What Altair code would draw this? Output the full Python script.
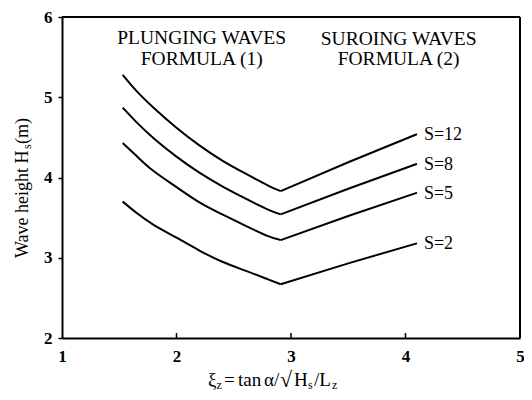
import altair as alt
import pandas as pd

# ---------------- data ----------------
S_values = [12, 8, 5, 2]
S_labels = ["S=12", "S=8", "S=5", "S=2"]

xi_plunging = [1.53, 1.65, 1.8, 2.0, 2.2, 2.4, 2.6, 2.8, 2.91]
H_plunging_S12 = [5.28, 5.08, 4.87, 4.62, 4.40, 4.21, 4.05, 3.90, 3.83]
H_plunging_S8 = [4.87, 4.69, 4.49, 4.26, 4.06, 3.89, 3.74, 3.60, 3.54]
H_plunging_S5 = [4.43, 4.27, 4.08, 3.88, 3.69, 3.54, 3.40, 3.27, 3.22]
H_plunging_S2 = [3.70, 3.56, 3.41, 3.25, 3.09, 2.95, 2.84, 2.73, 2.67]

xi_surging = [2.91, 3.5, 4.10]
H_surging_S12 = [3.83, 4.19, 4.54]
H_surging_S8 = [3.54, 3.86, 4.17]
H_surging_S5 = [3.22, 3.52, 3.81]
H_surging_S2 = [2.67, 2.93, 3.18]

x_ticks = [1, 2, 3, 4, 5]
y_ticks = [2, 3, 4, 5, 6]
inner_x_ticks = [2, 3, 4]
x_range = [1, 5]
y_range = [2, 6]

note_texts = ["PLUNGING WAVES", "FORMULA (1)", "SUROING WAVES", "FORMULA (2)"]
note_xi = [2.22, 2.22, 3.94, 3.94]
note_H = [5.74, 5.48, 5.72, 5.48]

# ---------------- tables ----------------
plunging = [H_plunging_S12, H_plunging_S8, H_plunging_S5, H_plunging_S2]
surging = [H_surging_S12, H_surging_S8, H_surging_S5, H_surging_S2]

rows = []
for s, hp, hs in zip(S_values, plunging, surging):
    for x, h in zip(xi_plunging, hp):
        rows.append({"xi": x, "H": h, "key": f"{s}-p"})
    for x, h in zip(xi_surging, hs):
        rows.append({"xi": x, "H": h, "key": f"{s}-s"})
df = pd.DataFrame(rows)

labels_df = pd.DataFrame({
    "xi": [xi_surging[-1]] * len(surging),
    "H": [hs[-1] for hs in surging],
    "label": S_labels,
})
notes_df = pd.DataFrame({"text": note_texts, "xi": note_xi, "H": note_H})

FONT = "Liberation Serif"
W, H = 458, 321

xscale = alt.Scale(domain=x_range, nice=False)
yscale = alt.Scale(domain=y_range, nice=False)

lines = alt.Chart(df).mark_line(color="black", strokeWidth=2, interpolate="natural").encode(
    x=alt.X("xi:Q", scale=xscale, title=None,
            axis=alt.Axis(values=x_ticks, format="d")),
    y=alt.Y("H:Q", scale=yscale, title=None,
            axis=alt.Axis(values=y_ticks, format="d")),
    detail="key:N",
)

# top and right edges of the plot frame (left/bottom are the axis domains)
edges = [
    alt.Chart(pd.DataFrame({"e": [0]})).mark_rule(color="black", strokeWidth=2).encode(
        x=alt.value(0), x2=alt.value(W), y=alt.value(0)),
    alt.Chart(pd.DataFrame({"e": [0]})).mark_rule(color="black", strokeWidth=2).encode(
        x=alt.value(W), y=alt.value(0), y2=alt.value(H)),
]

inner_ticks = alt.Chart(pd.DataFrame({"t": inner_x_ticks})).mark_rule(
    color="black", strokeWidth=1.5
).encode(x=alt.X("t:Q", scale=xscale), y=alt.value(H - 5), y2=alt.value(H))

s_labels = alt.Chart(labels_df).mark_text(
    font=FONT, fontSize=18, align="left", baseline="middle", dx=7, dy=1, color="black"
).encode(x=alt.X("xi:Q", scale=xscale), y=alt.Y("H:Q", scale=yscale), text="label:N")

notes = alt.Chart(notes_df).mark_text(
    font=FONT, fontSize=19.5, align="center", baseline="middle", color="black"
).encode(x=alt.X("xi:Q", scale=xscale), y=alt.Y("H:Q", scale=yscale), text="text:N")


def piece(txt, x, y, size, angle=0, baseline="alphabetic"):
    return alt.Chart(pd.DataFrame({"t": [txt]})).mark_text(
        font=FONT, fontSize=size, align="left", baseline=baseline, angle=angle, color="black"
    ).encode(text="t:N", x=alt.value(x), y=alt.value(y))


# x-axis title: xi_z = tan a / sqrt(H_s / L_z)
xt = [
    piece("ξ", 146, 369, 19),
    piece("z", 154.5, 372, 12),
    piece("=", 162, 369, 19),
    piece("tan", 176, 369, 19),
    piece("α/", 202, 369, 19),
    piece("√", 218, 370, 22),
    piece("H", 232, 369, 19),
    piece("s", 246, 372, 12),
    piece("/L", 252, 369, 19),
    piece("z", 270, 372, 12),
]
# y-axis title: Wave height H_s(m), rotated
yt = [
    piece("Wave height H", -34, 241, 18, angle=270),
    piece("s", -31, 132, 12, angle=270),
    piece("(m)", -34, 127, 18, angle=270),
]

chart = alt.layer(lines, *edges, inner_ticks, s_labels, notes, *xt, *yt).properties(
    width=W, height=H,
    autosize=alt.AutoSizeParams(type="none"),
    padding={"left": 54, "top": 9, "right": 4, "bottom": 55},
).configure_view(stroke=None).configure(background="white").configure_axis(
    grid=False, domain=True, domainColor="black", domainWidth=2,
    labelFont=FONT, labelFontSize=17, labelFontWeight="bold", labelColor="black",
    labelFlush=False, labelOverlap=False,
).configure_axisX(ticks=False, labelPadding=10).configure_axisY(
    tickSize=4, tickColor="black", tickWidth=1.5, labelPadding=6
)

chart.save("out.html", embed_options={"renderer": "svg", "actions": False})
